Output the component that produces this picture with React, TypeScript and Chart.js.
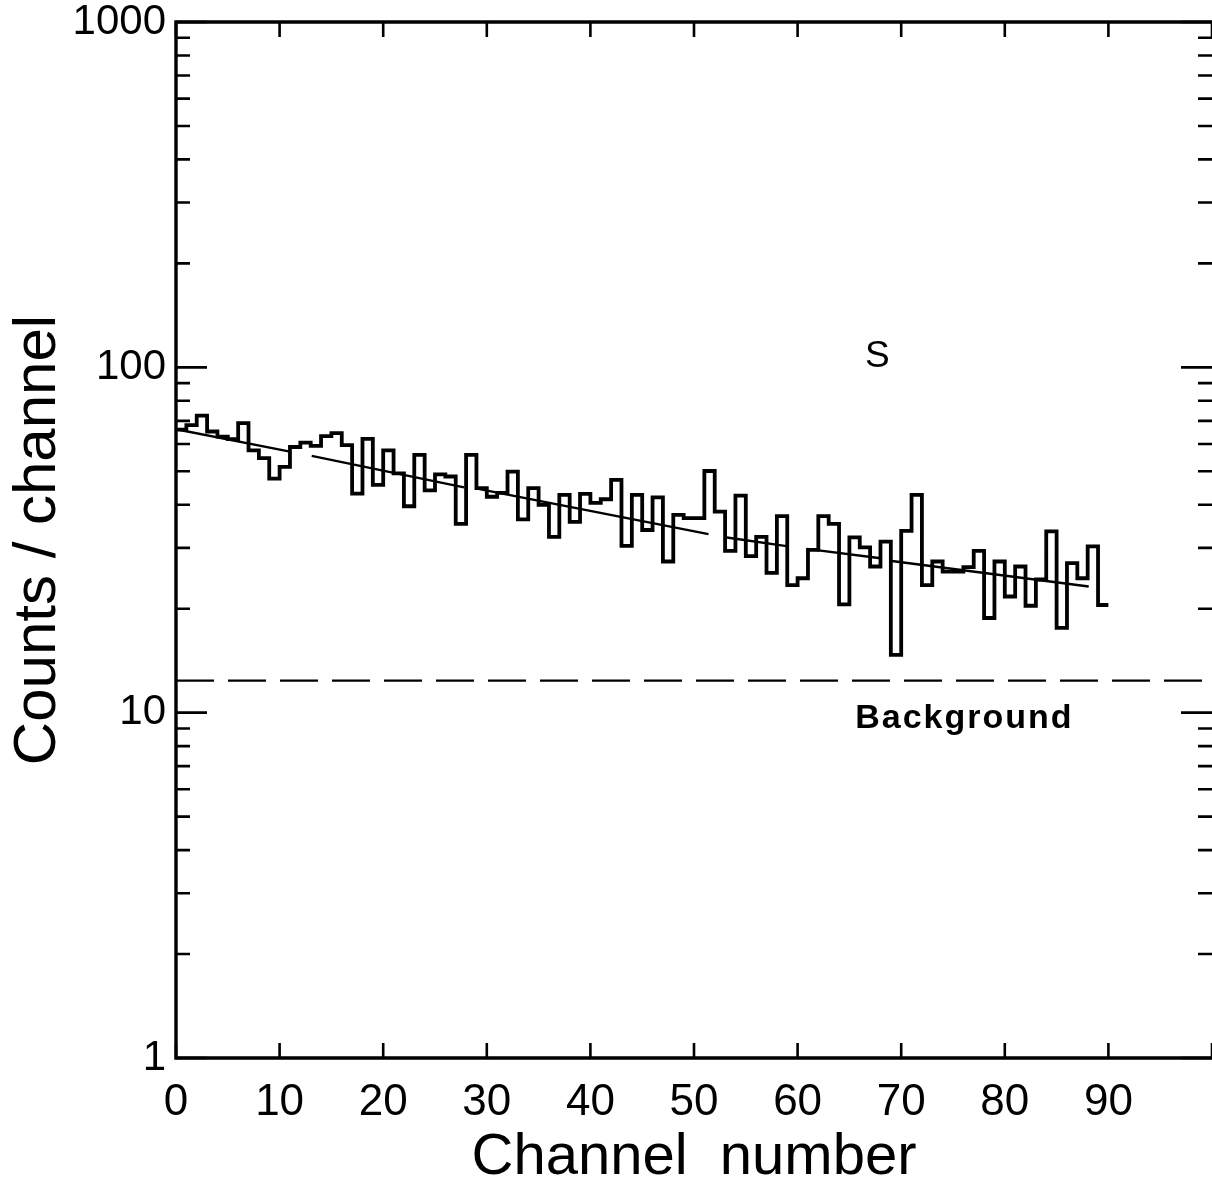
import React, { useEffect, useRef } from "react";
import { Chart, registerables } from "chart.js";

Chart.register(...registerables);

// Counts per channel, channels 0..89 (each bin spans [i, i+1])
const counts = [
  66, 68, 72.5, 65.2, 63, 62, 68.9, 57.5, 54.6, 47.6,
  51.5, 58.8, 60.5, 59.2, 63.2, 64.5, 59.5, 43.1, 62.1, 45.7,
  57.5, 49.3, 39.6, 55.8, 44, 49, 48.3, 35.2, 55.8, 44.7,
  42.2, 43.3, 49.9, 36.3, 44.7, 40, 32.3, 42.7, 35.7, 43.0,
  40.5, 41.5, 47.2, 30.4, 42.7, 33.8, 42, 27.4, 37.4, 36.6,
  36.6, 50.1, 38.2, 29.4, 42.5, 28.4, 32.3, 25.4, 37.1, 23.4,
  24.5, 29.6, 37.1, 35.2, 20.6, 32.2, 30.1, 26.5, 31.3, 14.7,
  33.6, 42.7, 23.4, 27.4, 25.6, 25.6, 26.4, 29.4, 18.8, 27.4,
  21.7, 26.5, 20.4, 24.3, 33.5, 17.6, 27.1, 24.5, 30.3, 20.5,
];

// Fitted curve, drawn as separate segments (channel, counts)
const fitSegA = [[0, 66.2], [11.0, 57.0]];
const fitSegB = [[13.1, 55.4], [27.8, 44.9]];
const fitSegC = [[29.3, 44.4], [51.4, 32.9]];
const fitSegD = [[53.0, 32.2], [59.1, 30.3]];
const fitSegE = [[60.9, 29.8], [68.0, 28.0]];
const fitSegF = [[69.1, 27.5], [88.1, 23.2]];
const fitSegments = [fitSegA, fitSegB, fitSegC, fitSegD, fitSegE, fitSegF];

const backgroundLevel = 12.38;
const backgroundSpan = [0, 100];

const xTickLabels = [0, 10, 20, 30, 40, 50, 60, 70, 80, 90];
const xTickMarks = [0, 10, 20, 30, 40, 50, 60, 70, 80, 90, 100];
const yTickLabels = [1, 10, 100, 1000];
const yDecades = [1, 10, 100];
const yMultipliers = [1, 2, 3, 4, 5, 6, 7, 8, 9];

const sLabel = { text: "S", x: 67.7, y: 107 };
const bgLabel = { text: "Background", x: 76.1, y: 9.6 };

const FONT = '"Liberation Sans", Arial, sans-serif';

const framePlugin = {
  id: "frameTicks",
  afterDraw(chart: any) {
    const { ctx, chartArea: a, scales } = chart;
    const xs = scales.x;
    const ys = scales.y;
    ctx.save();
    ctx.strokeStyle = "#000";
    ctx.lineCap = "butt";
    ctx.lineWidth = 3.4;
    ctx.beginPath();
    ctx.moveTo(a.left, a.top - 1.7);
    ctx.lineTo(a.left, a.bottom + 1.7);
    ctx.moveTo(a.left - 1.7, a.bottom);
    ctx.lineTo(a.right + 4, a.bottom);
    ctx.moveTo(a.left - 1.7, a.top);
    ctx.lineTo(a.right + 4, a.top);
    ctx.stroke();

    ctx.lineWidth = 2.6;
    ctx.beginPath();
    for (const v of xTickMarks) {
      const px = xs.getPixelForValue(v);
      ctx.moveTo(px, a.bottom);
      ctx.lineTo(px, a.bottom - 15);
      ctx.moveTo(px, a.top);
      ctx.lineTo(px, a.top + 15);
    }
    const yVals: [number, boolean][] = [];
    for (const d of yDecades) for (const m of yMultipliers) yVals.push([d * m, m === 1]);
    yVals.push([1000, true]);
    for (const [v, major] of yVals) {
      const py = ys.getPixelForValue(v);
      const len = major ? 31 : 14;
      ctx.moveTo(a.left, py);
      ctx.lineTo(a.left + len, py);
      ctx.moveTo(a.right, py);
      ctx.lineTo(a.right - len, py);
    }
    ctx.stroke();

    ctx.fillStyle = "#000";
    ctx.textAlign = "center";
    ctx.textBaseline = "middle";
    ctx.font = `37px ${FONT}`;
    ctx.fillText(sLabel.text, xs.getPixelForValue(sLabel.x), ys.getPixelForValue(sLabel.y));
    ctx.font = `bold 34px ${FONT}`;
    (ctx as any).letterSpacing = "2px";
    ctx.fillText(bgLabel.text, xs.getPixelForValue(bgLabel.x), ys.getPixelForValue(bgLabel.y));
    ctx.restore();
  },
};

export default function App() {
  const ref = useRef<HTMLCanvasElement | null>(null);

  useEffect(() => {
    if (!ref.current) return;
    const histData = counts.map((v, i) => ({ x: i, y: v }));
    histData.push({ x: counts.length, y: counts[counts.length - 1] });

    const fitData: { x: number; y: number | null }[] = [];
    fitSegments.forEach((seg, k) => {
      if (k > 0) fitData.push({ x: (seg[0][0] + fitSegments[k - 1][1][0]) / 2, y: null });
      seg.forEach(([x, y]) => fitData.push({ x, y }));
    });

    const bgData = backgroundSpan.map((x) => ({ x, y: backgroundLevel }));

    const chart = new Chart(ref.current, {
      type: "line",
      data: {
        datasets: [
          {
            label: "Counts",
            data: histData,
            stepped: "before",
            borderColor: "#000",
            borderWidth: 3.8,
            pointRadius: 0,
            fill: false,
          },
          {
            label: "Fit",
            data: fitData as any,
            borderColor: "#000",
            borderWidth: 2.4,
            pointRadius: 0,
            fill: false,
            spanGaps: false,
          },
          {
            label: "Background",
            data: bgData,
            borderColor: "#000",
            borderWidth: 2.2,
            borderDash: [38, 14],
            pointRadius: 0,
            fill: false,
          },
        ],
      },
      options: {
        responsive: false,
        animation: false,
        devicePixelRatio: 1,
        layout: { padding: { top: 22, right: 0, left: 0, bottom: 0 } },
        plugins: { legend: { display: false }, tooltip: { enabled: false }, title: { display: false } },
        scales: {
          x: {
            type: "linear",
            min: 0,
            max: 100,
            grid: { display: false, drawTicks: false },
            border: { display: false },
            afterBuildTicks: (s: any) => {
              s.ticks = xTickLabels.map((v) => ({ value: v }));
            },
            afterFit: (s: any) => {
              s.height = 122;
              s.paddingLeft = 0;
              s.paddingRight = 0;
            },
            ticks: {
              autoSkip: false,
              maxRotation: 0,
              padding: 18,
              color: "#000",
              font: { family: FONT, size: 44 },
              callback: (v: any) => String(v),
            },
            title: {
              display: true,
              text: "Channel  number",
              color: "#000",
              font: { family: FONT, size: 58, lineHeight: 0.75 },
              padding: { top: 0, bottom: 0 },
            },
          },
          y: {
            type: "logarithmic",
            min: 1,
            max: 1000,
            grid: { display: false, drawTicks: false },
            border: { display: false },
            afterBuildTicks: (s: any) => {
              s.ticks = yTickLabels.map((v) => ({ value: v }));
            },
            afterFit: (s: any) => {
              s.width = 176;
              s.paddingTop = 0;
              s.paddingBottom = 0;
            },
            ticks: {
              autoSkip: false,
              padding: 10,
              color: "#000",
              font: { family: FONT, size: 42, lineHeight: 0.5 },
              callback: (v: any) => String(v),
            },
            title: {
              display: true,
              text: "Counts / channel",
              color: "#000",
              font: { family: FONT, size: 60, lineHeight: 1.2 },
              padding: { top: 2, bottom: 0 },
            },
          },
        },
      },
      plugins: [framePlugin],
    });
    return () => chart.destroy();
  }, []);

  return (
    <div style={{ position: "fixed", left: 0, top: 0, width: 1212, height: 1180, background: "#fff" }}>
      <canvas ref={ref} width={1212} height={1180} style={{ display: "block" }} />
    </div>
  );
}
